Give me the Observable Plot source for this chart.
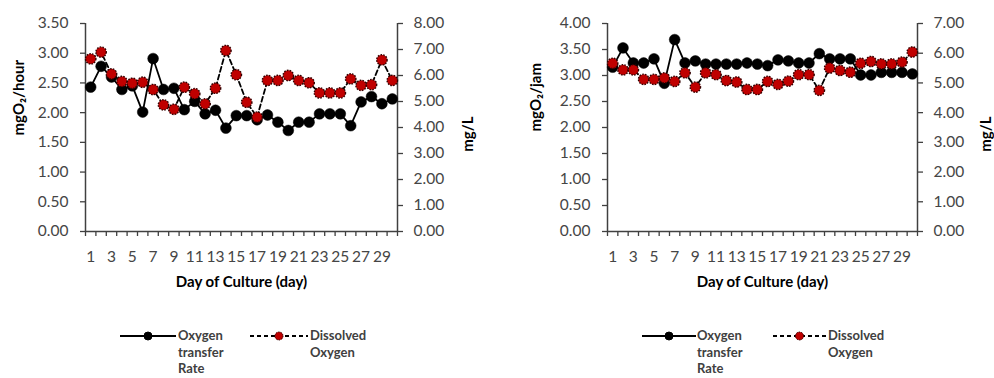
<!DOCTYPE html>
<html><head><meta charset="utf-8">
<script src="https://cdn.jsdelivr.net/npm/d3@7"></script>
<script src="https://cdn.jsdelivr.net/npm/@observablehq/plot@0.6"></script>
<style>
body{margin:0;background:#fff;font-family:Lato,"Noto Sans",sans-serif;}
#wrap{position:relative;width:994px;height:378px;overflow:hidden;}
#wrap .panel{position:absolute;top:0;}
.leg{position:absolute;font-weight:bold;font-size:13px;line-height:16.5px;color:#404040;}
svg.legsym{position:absolute;overflow:visible;}
</style></head>
<body>
<div id="wrap"></div>
<script>
// Category axis
const days = [1,2,3,4,5,6,7,8,9,10,11,12,13,14,15,16,17,18,19,20,21,22,23,24,25,26,27,28,29,30];
const xTickLabels = [1,3,5,7,9,11,13,15,17,19,21,23,25,27,29];

// Left panel (mgO2/hour, mg/L)
const otrHour = [2.43,2.78,2.60,2.39,2.45,2.01,2.91,2.39,2.41,2.05,2.19,1.98,2.04,1.74,1.95,1.95,1.88,1.96,1.84,1.70,1.84,1.84,1.98,1.98,1.98,1.78,2.18,2.27,2.15,2.23];
const doHour  = [6.64,6.90,6.06,5.77,5.70,5.74,5.46,4.87,4.70,5.55,5.30,4.91,5.51,6.96,6.03,4.97,4.40,5.81,5.81,6.00,5.81,5.72,5.33,5.33,5.33,5.87,5.62,5.65,6.60,5.81];
const yTicksHour = [0,0.5,1,1.5,2,2.5,3,3.5];
const y2TicksHour = [0,1,2,3,4,5,6,7,8];

// Right panel (mgO2/jam, mg/L)
const otrJam = [3.16,3.53,3.24,3.24,3.32,2.85,3.69,3.24,3.28,3.22,3.22,3.22,3.22,3.24,3.22,3.19,3.30,3.28,3.24,3.24,3.42,3.32,3.32,3.32,3.01,3.01,3.06,3.06,3.06,3.03];
const doJam  = [5.66,5.44,5.44,5.12,5.12,5.17,5.05,5.34,4.86,5.34,5.28,5.08,5.03,4.78,4.78,5.05,4.95,5.06,5.28,5.28,4.75,5.50,5.42,5.36,5.66,5.72,5.64,5.64,5.70,6.04];
const yTicksJam = [0,0.5,1,1.5,2,2.5,3,3.5,4];
const y2TicksJam = [0,1,2,3,4,5,6,7];

const xTitle = "Day of Culture (day)";
const y2Title = "mg/L";
const legendLabels = ["Oxygen transfer Rate", "Dissolved Oxygen"];

const FONT = "Lato, 'Noto Sans', sans-serif";
const AX = "#404040", LBL = "#454545", RED = "#c00000";

function panel({otr, dox, yTicks, y2Ticks, yTitle, ml, mr, yTitleDx, yTitleDy, y2TitleDx, y2TitleDy}) {
  const yMax = yTicks[yTicks.length-1];
  const y2Max = y2Ticks[y2Ticks.length-1];
  const k = yMax / y2Max;
  const rows = days.map((d,i)=>({day:d, otr:otr[i], dov:dox[i]*k}));
  return Plot.plot({
    width:497, height:300, marginLeft:ml, marginRight:mr, marginTop:23, marginBottom:69,
    x:{domain:[0.5,30.5], axis:null},
    y:{domain:[0,yMax], axis:null},
    style:{fontFamily:FONT, background:"#fff", overflow:"visible"},
    marks:[
      Plot.axisY({anchor:"left", ticks:yTicks, tickSize:5, tickPadding:12, tickFormat:d=>d.toFixed(2), fontSize:15.5, stroke:AX, fill:LBL, strokeWidth:1.3, label:null}),
      Plot.axisY({anchor:"right", ticks:y2Ticks.map(v=>v*k), tickSize:5, tickPadding:11, tickFormat:d=>(d/k).toFixed(2), fontSize:15.5, stroke:AX, fill:LBL, strokeWidth:1.3, label:null}),
      Plot.axisX({anchor:"bottom", ticks:[0.5, ...days.map(d=>d+0.5)], tickSize:5, tickFormat:()=>"", stroke:AX, strokeWidth:1.3, label:null}),
      Plot.axisX({anchor:"bottom", ticks:xTickLabels, tickSize:0, tickPadding:19, tickFormat:d=>String(d), fontSize:15.5, fill:LBL, label:null}),
      Plot.ruleX([0.5], {stroke:AX, strokeWidth:1.5}),
      Plot.ruleX([30.5], {stroke:AX, strokeWidth:1.5}),
      Plot.ruleY([0], {stroke:AX, strokeWidth:1.5}),
      Plot.line(rows, {x:"day", y:"otr", stroke:"#000", strokeWidth:1.8}),
      Plot.dot(rows, {x:"day", y:"otr", r:5.4, fill:"#000", stroke:"#000", strokeWidth:0.5}),
      Plot.line(rows, {x:"day", y:"dov", stroke:"#000", strokeWidth:1.8, strokeDasharray:"5,3"}),
      Plot.dot(rows, {x:"day", y:"dov", r:5.2, fill:RED, stroke:"#300", strokeWidth:1.4, strokeDasharray:"1.6,1.2"}),
      Plot.text([yTitle], {frameAnchor:"left", dx:yTitleDx, dy:yTitleDy, rotate:-90, fontWeight:"bold", fontSize:15, fill:"#000"}),
      Plot.text([y2Title], {frameAnchor:"right", dx:y2TitleDx, dy:y2TitleDy, rotate:-90, fontWeight:"bold", fontSize:15, fill:"#000"}),
      Plot.text([xTitle], {frameAnchor:"bottom", dy:55, fontWeight:"bold", fontSize:15, fill:"#000"})
    ]
  });
}

const wrap = document.getElementById("wrap");
const p1 = panel({otr:otrHour, dox:doHour, yTicks:yTicksHour, y2Ticks:y2TicksHour, yTitle:"mgO₂/hour", ml:85, mr:100, yTitleDx:-66, yTitleDy:8, y2TitleDx:71, y2TitleDy:-11});
const p2 = panel({otr:otrJam, dox:doJam, yTicks:yTicksJam, y2Ticks:y2TicksJam, yTitle:"mgO₂/jam", ml:110, mr:77, yTitleDx:-71, yTitleDy:4, y2TitleDx:69, y2TitleDy:-11});
p1.classList.add("panel"); p1.style.left = "0px";
p2.classList.add("panel"); p2.style.left = "497px";
wrap.appendChild(p1); wrap.appendChild(p2);

// Legends
function legend(x0, specs){
  specs.forEach(s=>{
    const ns = "http://www.w3.org/2000/svg";
    const svg = document.createElementNS(ns, "svg");
    svg.setAttribute("class","legsym");
    svg.setAttribute("width", s.len); svg.setAttribute("height", 12);
    svg.style.left = (x0 + s.x) + "px"; svg.style.top = "330px";
    const line = document.createElementNS(ns, "line");
    line.setAttribute("x1",0); line.setAttribute("x2",s.len); line.setAttribute("y1",6); line.setAttribute("y2",6);
    line.setAttribute("stroke","#000"); line.setAttribute("stroke-width",1.8);
    if (s.dash) line.setAttribute("stroke-dasharray","4,3");
    svg.appendChild(line);
    const c = document.createElementNS(ns, "circle");
    c.setAttribute("cx", s.len/2); c.setAttribute("cy",6); c.setAttribute("r",4);
    c.setAttribute("fill", s.fill); c.setAttribute("stroke", s.dash ? "#300" : "#000");
    if (s.dash) c.setAttribute("stroke-dasharray","1.5,1");
    svg.appendChild(c);
    wrap.appendChild(svg);
    const d = document.createElement("div");
    d.className = "leg";
    d.style.left = (x0 + s.tx) + "px"; d.style.top = "327px"; d.style.width = s.tw + "px";
    d.textContent = s.label;
    wrap.appendChild(d);
  });
}
legend(0, [
  {x:120, len:56, fill:"#000", dash:false, tx:178, tw:60, label:legendLabels[0]},
  {x:250, len:58, fill:RED, dash:true, tx:310, tw:66, label:legendLabels[1]}
]);
legend(0, [
  {x:642, len:54, fill:"#000", dash:false, tx:697, tw:60, label:legendLabels[0]},
  {x:773, len:53, fill:RED, dash:true, tx:828, tw:66, label:legendLabels[1]}
]);
</script>
</body></html>
